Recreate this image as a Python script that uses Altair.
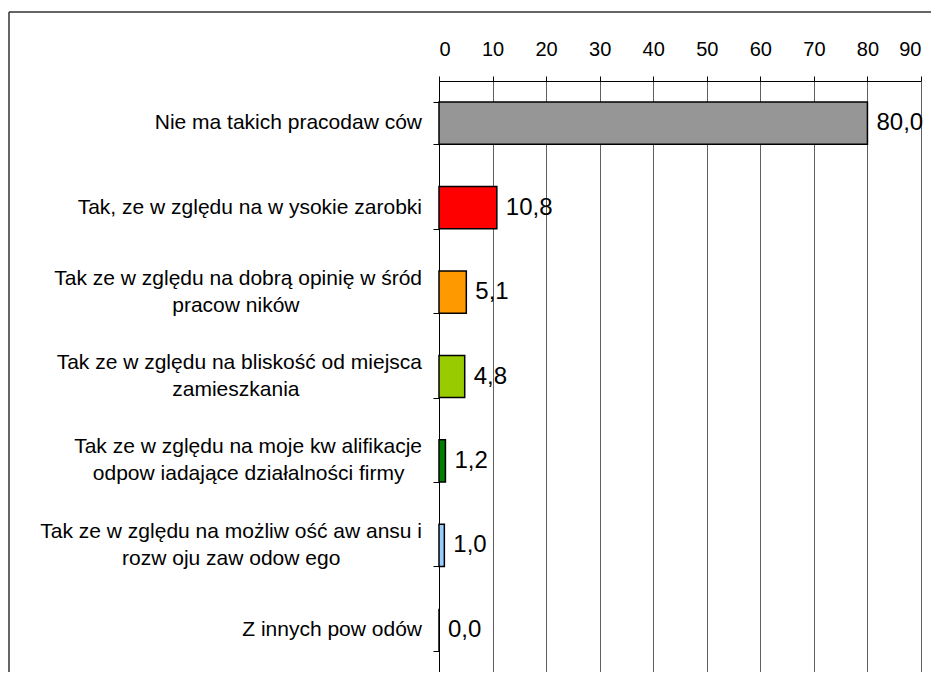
import altair as alt
import pandas as pd

categories = [
    "Nie ma takich pracodaw ców",
    "Tak, ze w zględu na w ysokie zarobki",
    "Tak ze w zględu na dobrą opinię w śród\npracow ników",
    "Tak ze w zględu na bliskość od miejsca\nzamieszkania",
    "Tak ze w zględu na moje kw alifikacje\nodpow iadające działalności firmy",
    "Tak ze w zględu na możliw ość aw ansu i\nrozw oju zaw odow ego",
    "Z innych pow odów",
]
values = [80.0, 10.8, 5.1, 4.8, 1.2, 1.0, 0.0]
colors = ["#969696", "#FF0000", "#FF9900", "#99CC00", "#008000", "#99CCFF", "#FFFFFF"]
x_ticks = [0, 10, 20, 30, 40, 50, 60, 70, 80, 90]

FONT = "Liberation Sans"
LABEL_FS = 21
LINE_H = 27

# Arial / Liberation Sans advance widths (1/1000 em), used to centre wrapped lines
W = {" ": 278, ",": 278, ".": 278, "a": 556, "b": 556, "c": 500, "d": 556, "e": 556,
     "f": 278, "g": 556, "h": 556, "i": 222, "j": 222, "k": 500, "l": 222, "m": 833,
     "n": 556, "o": 556, "p": 556, "q": 556, "r": 333, "s": 500, "t": 278, "u": 556,
     "v": 500, "w": 722, "x": 500, "y": 500, "z": 500, "T": 611, "N": 722, "Z": 611,
     "ę": 556, "ą": 556, "ś": 500, "ó": 556, "ż": 500, "ć": 500, "ł": 222, "ń": 556}


def tw(s):
    return sum(W.get(c, 556) for c in s)


def centred(label):
    lines = label.split("\n")
    wmax = max(tw(l) for l in lines)
    out = []
    for l in lines:
        n = round((wmax - tw(l)) / 2 / 278)
        out.append(l + ("\u00a0" * n + "\u200b" if n > 0 else ""))
    return "\n".join(out)


cat_labels = [centred(c) for c in categories]

df = pd.DataFrame({
    "cat": cat_labels,
    "nlines": [c.count("\n") + 1 for c in categories],
    "value": values,
    "color": colors,
    "label": [f"{v:.1f}".replace(".", ",") for v in values],
})

y_enc = alt.Y(
    "cat:N", sort=None, title=None,
    scale=alt.Scale(domain=cat_labels, paddingInner=0.5, paddingOuter=0.25),
    axis=alt.Axis(
        labels=False,
        tickBand="extent", tickSize=6, tickColor="#000000",
        domainColor="#000000", domainWidth=1, grid=False,
    ),
)

x_enc = alt.X(
    "value:Q", title=None,
    scale=alt.Scale(domain=[0, 90], nice=False),
    axis=alt.Axis(
        orient="top", values=x_ticks, format="d",
        labelFont=FONT, labelFontSize=20, labelColor="#000000",
        labelPadding=17, tickSize=5, tickColor="#000000",
        domainColor="#000000", domainWidth=1,
        grid=True, gridColor="#606060", gridWidth=1,
    ),
)

bars = alt.Chart(df).mark_bar(stroke="#000000", strokeWidth=1.5).encode(
    y=y_enc, x=x_enc, color=alt.Color("color:N", scale=None)
)

texts = alt.Chart(df).mark_text(
    align="left", baseline="middle", dx=9, fontSize=24, font=FONT, color="#000000"
).encode(y=y_enc, x="value:Q", text="label:N")

cat_single = alt.Chart(df).transform_filter("datum.nlines == 1").mark_text(
    align="right", baseline="middle", font=FONT, fontSize=LABEL_FS, color="#000000"
).encode(y=y_enc, x=alt.value(-17), text="cat:N")

cat_multi = alt.Chart(df).transform_filter("datum.nlines > 1").mark_text(
    align="right", baseline="middle", font=FONT, fontSize=LABEL_FS, color="#000000",
    lineBreak="\n", lineHeight=LINE_H, dy=-LINE_H / 2,
).encode(y=y_enc, x=alt.value(-17), text="cat:N")

one = pd.DataFrame({"a": [0]})
frame_top = alt.Chart(one).mark_rule(color="#333333", strokeWidth=1.5).encode(
    x=alt.value(-430), x2=alt.value(500), y=alt.value(-69)
)
frame_left = alt.Chart(one).mark_rule(color="#333333", strokeWidth=1.5).encode(
    x=alt.value(-430), y=alt.value(-69), y2=alt.value(600)
)

chart = alt.layer(bars, texts, cat_single, cat_multi, frame_top, frame_left).properties(
    width=482, height=591,
    autosize=alt.AutoSizeParams(type="none"),
    padding={"left": 431, "top": 73, "right": 10, "bottom": 0},
).configure_view(strokeWidth=0).configure(background="#ffffff")

chart.save("out.html", embed_options={"renderer": "svg", "actions": False})
